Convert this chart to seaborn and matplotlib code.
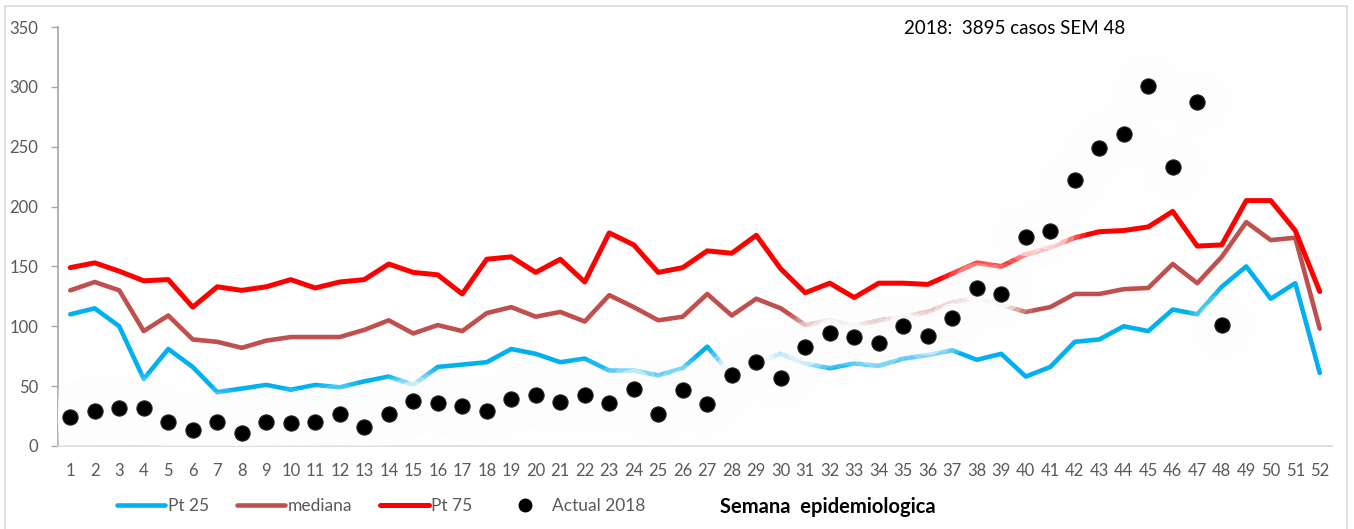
import matplotlib.pyplot as plt
import seaborn as sns
import pandas as pd
from matplotlib.lines import Line2D

weeks = list(range(1, 53))
pt25 = [110, 115, 100, 56, 81, 66, 45, 48, 51, 47, 51, 49, 54, 58, 51, 66,
        68, 70, 81, 77, 70, 73, 63, 63, 59, 65, 83, 59, 70, 77, 69, 65,
        69, 67, 73, 76, 80, 72, 77, 58, 66, 87, 89, 100, 96, 114, 110, 133,
        150, 123, 136, 61]
mediana = [130, 137, 130, 96, 109, 89, 87, 82, 88, 91, 91, 91, 97, 105, 94, 101,
           96, 111, 116, 108, 112, 104, 126, 116, 105, 108, 127, 109, 123, 115, 101, 105,
           100, 105, 108, 112, 120, 124, 118, 112, 116, 127, 127, 131, 132, 152, 136, 158,
           187, 172, 174, 98]
pt75 = [149, 153, 146, 138, 139, 116, 133, 130, 133, 139, 132, 137, 139, 152, 145, 143,
        127, 156, 158, 145, 156, 137, 178, 168, 145, 149, 163, 161, 176, 148, 128, 136,
        124, 136, 136, 135, 144, 153, 150, 160, 166, 174, 179, 180, 183, 196, 167, 168,
        205, 205, 180, 129]
actual_weeks = list(range(1, 49))
actual_2018 = [24, 29, 32, 32, 20, 13, 20, 11, 20, 19, 20, 27, 16, 27, 38, 36,
               33, 29, 39, 43, 37, 43, 36, 48, 27, 47, 35, 59, 70, 57, 83, 94,
               91, 86, 100, 92, 107, 132, 127, 175, 180, 222, 249, 261, 301, 233, 287, 101]

df = pd.DataFrame({"semana": weeks, "Pt 25": pt25, "mediana": mediana, "Pt 75": pt75})
df_act = pd.DataFrame({"semana": actual_weeks, "casos": actual_2018})

gray = "#595959"
sns.set_style("white")
plt.rcParams["font.family"] = ["Lato", "DejaVu Sans"]

fig = plt.figure(figsize=(13.54, 5.29), dpi=100)
ax = fig.add_axes([58 / 1354, 1 - 446 / 529, (1332 - 58) / 1354, (446 - 27) / 529])

sns.lineplot(data=df, x="semana", y="Pt 25", color="#00B0F0", lw=3.3, ax=ax, zorder=2)
sns.lineplot(data=df, x="semana", y="mediana", color="#C0504D", lw=3.3, ax=ax, zorder=3)
sns.lineplot(data=df, x="semana", y="Pt 75", color="#FF0000", lw=3.6, ax=ax, zorder=4)

# soft white glow around the 2018 dots
for size, a in [(2600, 0.12), (1900, 0.18), (1300, 0.3), (800, 0.5), (450, 0.8)]:
    sns.scatterplot(data=df_act, x="semana", y="casos", s=size, color="#fdfdfd",
                    alpha=a, edgecolor="none", legend=False, ax=ax, zorder=5)
sns.scatterplot(data=df_act, x="semana", y="casos", s=120, color="black",
                edgecolor="#222222", linewidth=0.8, legend=False, ax=ax, zorder=6)

ax.set_xlim(0.5, 52.5)
ax.set_ylim(0, 350)
ax.set_xticks(weeks)
ax.set_yticks(range(0, 351, 50))
ax.set_xlabel("")
ax.set_ylabel("")
ax.tick_params(axis="x", length=0, pad=12, labelsize=12, labelcolor=gray)
ax.tick_params(axis="y", length=5, width=1, color="#a6a6a6", pad=9, labelsize=12,
               labelcolor=gray, left=True)
for side in ["top", "right"]:
    ax.spines[side].set_visible(False)
ax.spines["left"].set_color("#a6a6a6")
ax.spines["bottom"].set_color("#d9d9d9")
ax.spines["left"].set_linewidth(1.2)
ax.spines["bottom"].set_linewidth(1.2)

ax.text(904 / 1354, 1 - 28 / 529, "2018:  3895 casos SEM 48", transform=fig.transFigure,
        fontsize=13.5, color="black", va="center", ha="left")

handles = [
    Line2D([], [], color="#00B0F0", lw=3.3),
    Line2D([], [], color="#C0504D", lw=3.3),
    Line2D([], [], color="#FF0000", lw=3.6),
    Line2D([], [], color="black", lw=0, marker="o", markersize=9),
]
fig.legend(handles, ["Pt 25", "mediana", "Pt 75", "Actual 2018"], ncol=4,
           loc="center left", bbox_to_anchor=(101 / 1354, 1 - 506 / 529),
           frameon=False, fontsize=12.5, labelcolor=gray, handlelength=2.8,
           handletextpad=0.15, columnspacing=1.6)
fig.text(720 / 1354, 1 - 507 / 529, "Semana  epidemiologica", fontsize=14.5,
         fontweight="bold", color="black", va="center", ha="left")

# chart area border
border = "#d9d9d9"
fig.add_artist(Line2D([5 / 1354, 5 / 1354], [0, 1 - 6 / 529], color=border, lw=1.2))
fig.add_artist(Line2D([5 / 1354, 1347 / 1354], [1 - 6 / 529, 1 - 6 / 529], color=border, lw=1.2))
fig.add_artist(Line2D([1347 / 1354, 1347 / 1354], [0, 1 - 6 / 529], color=border, lw=1.2))

fig.savefig("out.png", dpi=100)
